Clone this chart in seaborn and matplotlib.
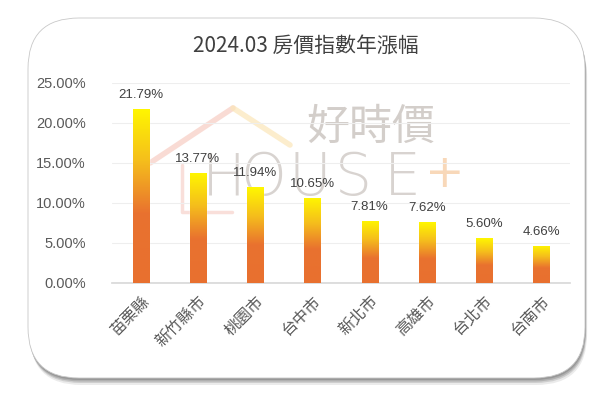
import matplotlib
matplotlib.use("Agg")
import matplotlib.pyplot as plt
import matplotlib.patches as mpatches
from matplotlib.lines import Line2D
import numpy as np
import pandas as pd
import seaborn as sns
from matplotlib.colors import LinearSegmentedColormap

cities = ["苗栗縣", "新竹縣市", "桃園市", "台中市", "新北市", "高雄市", "台北市", "台南市"]
values = [21.79, 13.77, 11.94, 10.65, 7.81, 7.62, 5.60, 4.66]
yticks = [0, 5, 10, 15, 20, 25]
title = "2024.03 房價指數年漲幅"

sns.set_theme(style="white")
plt.rcParams['font.family'] = ['Noto Sans CJK TC', 'DejaVu Sans']

W, H = 600, 398
fig = plt.figure(figsize=(W / 100, H / 100), dpi=100)
fig.patch.set_facecolor("white")


def fx(px):
    return px / W


def fy(py):
    return 1 - py / H


# card with shadow
for off, a in [(7, 0.15), (5, 0.25), (3.5, 0.35), (2, 0.45)]:
    sh = mpatches.FancyBboxPatch((fx(28 + off * 0.3), fy(378 + off)), fx(557), 360 / H,
                                 boxstyle="round,pad=0,rounding_size=0.085",
                                 transform=fig.transFigure, facecolor="#7a7a7a",
                                 edgecolor="none", alpha=a, zorder=0, mutation_aspect=1.5)
    fig.patches.append(sh)
card = mpatches.FancyBboxPatch((fx(28), fy(378)), fx(557), 360 / H,
                               boxstyle="round,pad=0,rounding_size=0.085",
                               transform=fig.transFigure, facecolor="white",
                               edgecolor="#c8c8c8", linewidth=0.6, zorder=1, mutation_aspect=1.5)
fig.patches.append(card)

# watermark (decorative)
fig.add_artist(Line2D([fx(150), fx(233)], [fy(163), fy(108)], color="#F7CDC3", lw=4,
                      alpha=0.7, solid_capstyle="round", zorder=1.2))
fig.add_artist(Line2D([fx(233), fx(290)], [fy(108), fy(145)], color="#FBE6B8", lw=4,
                      alpha=0.7, solid_capstyle="round", zorder=1.2))
fig.add_artist(Line2D([fx(182), fx(182), fx(232)], [fy(165), fy(212), fy(212)],
                      color="#F7D2CB", lw=2.5, alpha=0.7, zorder=1.2))
fig.text(fx(306), fy(128), "好時價", fontsize=31, color="#CFC9C5", alpha=0.9,
         va="center", ha="left", zorder=1.3)
for ch, cx in zip("HOUSE", [224, 263, 310, 353, 402]):
    fig.text(fx(cx), fy(179), ch, fontsize=42, color="#D4CFCB", alpha=0.9,
             va="center", ha="center", zorder=1.3, fontweight="light",
             family=['DejaVu Sans'])
fig.text(fx(445), fy(175), "+", fontsize=34, color="#F8D4B2", alpha=0.9,
         va="center", ha="center", zorder=1.3,
         family=['DejaVu Sans'])

ax = fig.add_axes([fx(112), fy(283), fx(570) - fx(112), 200 / H])
ax.set_zorder(2)
ax.patch.set_alpha(0)

df = pd.DataFrame({"city": cities, "value": values})
sns.barplot(data=df, x="city", y="value", ax=ax, color="#E8702F", width=0.28, saturation=1)

cmap = LinearSegmentedColormap.from_list("g", [(0, "#FFF700"), (0.3, "#F5BE1C"),
                                               (0.6, "#E9722F"), (1, "#E8702F")])
grad = np.linspace(0, 1, 256).reshape(-1, 1)
for p in ax.patches:
    x0, y0 = p.get_x(), p.get_y()
    w, h = p.get_width(), p.get_height()
    im = ax.imshow(grad, cmap=cmap, aspect="auto", extent=(x0, x0 + w, y0, y0 + h),
                   origin="upper", zorder=3)
    im.set_clip_path(p)
    p.set_zorder(2)
    ax.text(x0 + w / 2, y0 + h + 1.0, f"{h:.2f}%", ha="center", va="bottom",
            fontsize=9.5, color="#404040", zorder=5, family=['Liberation Sans', 'DejaVu Sans'])

ax.set_ylim(0, 25)
ax.set_xlim(-0.5, len(cities) - 0.5)
ax.set_yticks(yticks)
ax.set_yticklabels([f"{v:.2f}%" for v in yticks], fontsize=10.5, color="#595959",
                   family=['Liberation Sans', 'DejaVu Sans'])
ax.set_xticks(range(len(cities)))
ax.set_xticklabels(cities, rotation=45, ha="right", rotation_mode="anchor",
                   fontsize=11.5, color="#595959")
ax.tick_params(axis="y", length=0, pad=19)
ax.tick_params(axis="x", length=0, pad=7)
ax.yaxis.grid(True, color="#EEEEEE", linewidth=0.8)
ax.set_axisbelow(True)
for s in ["top", "right", "left"]:
    ax.spines[s].set_visible(False)
ax.spines["bottom"].set_color("#D9D9D9")
ax.set_xlabel("")
ax.set_ylabel("")

fig.text(fx(306), fy(46), title, ha="center", va="center", fontsize=15, color="#404040")

fig.savefig("out.png", dpi=100, facecolor="white")
